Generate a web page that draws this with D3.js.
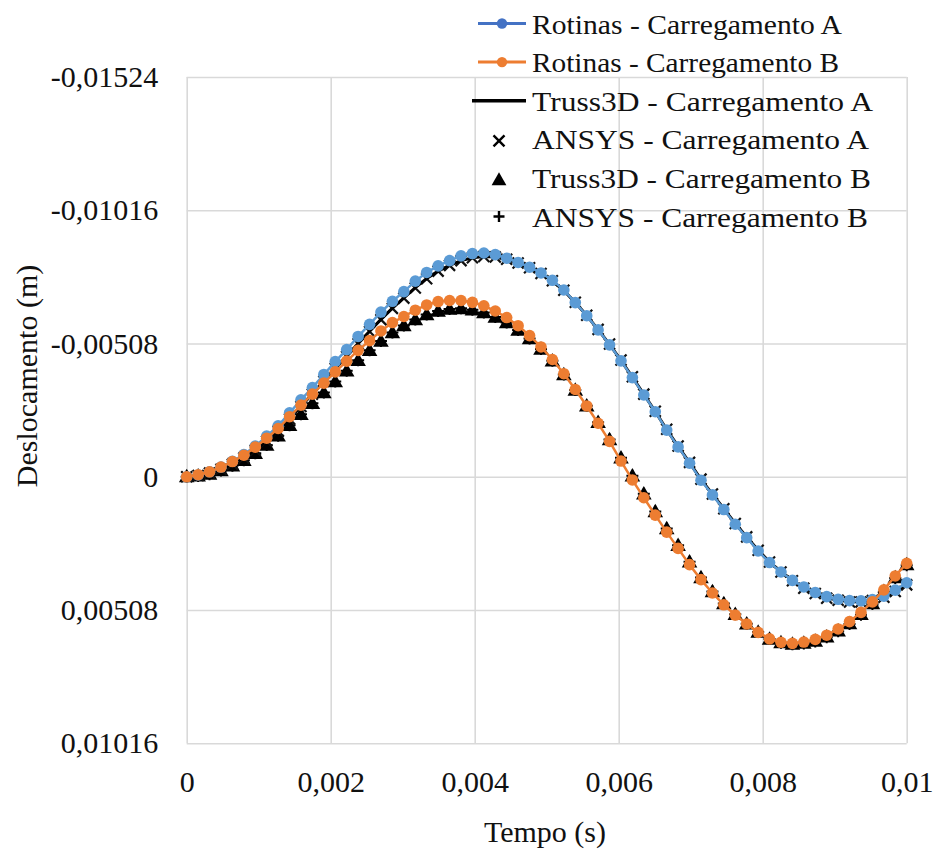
<!DOCTYPE html>
<html>
<head>
<meta charset="utf-8">
<script src="https://cdn.jsdelivr.net/npm/d3@7/dist/d3.min.js"></script>
<style>
  html, body { margin: 0; padding: 0; background: #ffffff; }
  svg { display: block; }
  text { font-family: "Liberation Serif", "Times New Roman", serif; fill: #111; }
</style>
</head>
<body>
<svg id="chart" width="935" height="850"></svg>
<script>
// ---------------- DATA ----------------
const times = [0, 0.000159, 0.000317, 0.000476, 0.000635, 0.000794, 0.000952, 0.001111, 0.001270, 0.001429,
  0.001587, 0.001746, 0.001905, 0.002063, 0.002222, 0.002381, 0.002540, 0.002698, 0.002857, 0.003016,
  0.003175, 0.003333, 0.003492, 0.003651, 0.003810, 0.003968, 0.004127, 0.004286, 0.004444, 0.004603,
  0.004762, 0.004921, 0.005079, 0.005238, 0.005397, 0.005556, 0.005714, 0.005873, 0.006032, 0.006190,
  0.006349, 0.006508, 0.006667, 0.006825, 0.006984, 0.007143, 0.007302, 0.007460, 0.007619, 0.007778,
  0.007937, 0.008095, 0.008254, 0.008413, 0.008571, 0.008730, 0.008889, 0.009048, 0.009206, 0.009365,
  0.009524, 0.009683, 0.009841, 0.010000];

const rotinasA = [0, -0.00007, -0.00019, -0.00037, -0.00059, -0.00085, -0.00117, -0.00155, -0.00194, -0.00244,
  -0.00293, -0.00340, -0.00390, -0.00439, -0.00485, -0.00535, -0.00581, -0.00628, -0.00669, -0.00706,
  -0.00746, -0.00779, -0.00804, -0.00824, -0.00842, -0.00851, -0.00853, -0.00847, -0.00833, -0.00817,
  -0.00799, -0.00777, -0.00749, -0.00712, -0.00664, -0.00614, -0.00560, -0.00503, -0.00442, -0.00378,
  -0.00312, -0.00248, -0.00178, -0.00114, -0.00052, 0.00013, 0.00069, 0.00125, 0.00181, 0.00232,
  0.00283, 0.00327, 0.00363, 0.00395, 0.00420, 0.00441, 0.00457, 0.00467, 0.00472, 0.00473,
  0.00468, 0.00455, 0.00432, 0.00404];

const rotinasB = [0, -0.00008, -0.00019, -0.00037, -0.00058, -0.00082, -0.00113, -0.00147, -0.00184, -0.00229,
  -0.00273, -0.00315, -0.00357, -0.00400, -0.00441, -0.00482, -0.00519, -0.00556, -0.00588, -0.00611,
  -0.00635, -0.00655, -0.00668, -0.00672, -0.00672, -0.00665, -0.00652, -0.00632, -0.00607, -0.00576,
  -0.00538, -0.00495, -0.00447, -0.00393, -0.00333, -0.00270, -0.00204, -0.00135, -0.00060, 0.00012,
  0.00080, 0.00146, 0.00211, 0.00273, 0.00335, 0.00392, 0.00443, 0.00488, 0.00527, 0.00561,
  0.00593, 0.00618, 0.00631, 0.00635, 0.00630, 0.00620, 0.00604, 0.00580, 0.00552, 0.00517,
  0.00477, 0.00431, 0.00378, 0.00330];

const truss3dA = [0, -0.00005, -0.00014, -0.00029, -0.00049, -0.00073, -0.00102, -0.00137, -0.00175, -0.00221,
  -0.00269, -0.00316, -0.00365, -0.00414, -0.00460, -0.00508, -0.00555, -0.00600, -0.00643, -0.00682,
  -0.00721, -0.00756, -0.00784, -0.00806, -0.00824, -0.00835, -0.00840, -0.00838, -0.00828, -0.00814,
  -0.00796, -0.00774, -0.00746, -0.00710, -0.00664, -0.00615, -0.00561, -0.00505, -0.00444, -0.00380,
  -0.00314, -0.00249, -0.00180, -0.00116, -0.00054, 0.00010, 0.00066, 0.00122, 0.00178, 0.00229,
  0.00280, 0.00325, 0.00362, 0.00395, 0.00424, 0.00444, 0.00462, 0.00470, 0.00476, 0.00476,
  0.00471, 0.00458, 0.00436, 0.00410];

const ansysA = [0, -0.00005, -0.00014, -0.00029, -0.00048, -0.00072, -0.00101, -0.00136, -0.00174, -0.00220,
  -0.00268, -0.00315, -0.00364, -0.00413, -0.00459, -0.00507, -0.00554, -0.00599, -0.00642, -0.00681,
  -0.00720, -0.00755, -0.00784, -0.00806, -0.00824, -0.00835, -0.00840, -0.00838, -0.00829, -0.00815,
  -0.00797, -0.00775, -0.00747, -0.00711, -0.00665, -0.00616, -0.00562, -0.00506, -0.00445, -0.00381,
  -0.00315, -0.00250, -0.00181, -0.00117, -0.00055, 0.00009, 0.00066, 0.00122, 0.00178, 0.00229,
  0.00280, 0.00325, 0.00363, 0.00396, 0.00425, 0.00445, 0.00463, 0.00471, 0.00477, 0.00477,
  0.00472, 0.00459, 0.00437, 0.00412];

const truss3dB = [0, -0.00003, -0.00010, -0.00023, -0.00041, -0.00062, -0.00089, -0.00120, -0.00155, -0.00195,
  -0.00237, -0.00279, -0.00320, -0.00362, -0.00403, -0.00443, -0.00481, -0.00517, -0.00549, -0.00576,
  -0.00599, -0.00618, -0.00631, -0.00639, -0.00641, -0.00636, -0.00625, -0.00608, -0.00587, -0.00559,
  -0.00526, -0.00486, -0.00441, -0.00389, -0.00330, -0.00270, -0.00207, -0.00141, -0.00072, -0.00003,
  0.00066, 0.00133, 0.00198, 0.00262, 0.00325, 0.00385, 0.00438, 0.00484, 0.00525, 0.00561,
  0.00593, 0.00619, 0.00633, 0.00638, 0.00635, 0.00627, 0.00611, 0.00588, 0.00560, 0.00525,
  0.00484, 0.00437, 0.00385, 0.00335];

const ansysB = [0, -0.00003, -0.00010, -0.00024, -0.00042, -0.00063, -0.00090, -0.00121, -0.00156, -0.00196,
  -0.00238, -0.00280, -0.00321, -0.00363, -0.00404, -0.00444, -0.00482, -0.00518, -0.00550, -0.00577,
  -0.00600, -0.00619, -0.00632, -0.00640, -0.00642, -0.00637, -0.00626, -0.00609, -0.00588, -0.00560,
  -0.00527, -0.00487, -0.00442, -0.00390, -0.00331, -0.00271, -0.00208, -0.00142, -0.00073, -0.00004,
  0.00065, 0.00132, 0.00197, 0.00261, 0.00324, 0.00384, 0.00437, 0.00483, 0.00524, 0.00560,
  0.00592, 0.00618, 0.00633, 0.00638, 0.00636, 0.00628, 0.00612, 0.00589, 0.00561, 0.00526,
  0.00485, 0.00438, 0.00386, 0.00337];

const seriesNames = ["Rotinas - Carregamento A", "Rotinas - Carregamento B", "Truss3D - Carregamento A",
  "ANSYS - Carregamento A", "Truss3D - Carregamento B", "ANSYS - Carregamento B"];

const yTicks = [-0.01524, -0.01016, -0.00508, 0, 0.00508, 0.01016];
const yTickLabels = ["-0,01524", "-0,01016", "-0,00508", "0", "0,00508", "0,01016"];
const xTicks = [0, 0.002, 0.004, 0.006, 0.008, 0.01];
const xTickLabels = ["0", "0,002", "0,004", "0,006", "0,008", "0,01"];
const xTitle = "Tempo (s)";
const yTitle = "Deslocamento (m)";

// ---------------- LAYOUT ----------------
const svg = d3.select("#chart");
const L = 186.7, R = 906.7, T = 77, B = 743.3;
const BLUE = "#5b9bd5", BLUE_LEG = "#4472c4", ORANGE = "#ed7d31";

svg.append("rect").attr("width", 935).attr("height", 850).attr("fill", "#fff");

const x = d3.scaleLinear().domain([0, 0.01]).range([L, R]);
const y = d3.scaleLinear().domain([-0.01524, 0.01016]).range([T, B]);

// Axes with gridlines
const yAxis = svg.append("g").attr("transform", `translate(${L},0)`)
  .call(d3.axisLeft(y).tickValues(yTicks).tickFormat((d, i) => yTickLabels[i])
    .tickSize(-(R - L)).tickPadding(28.5));
const xAxis = svg.append("g").attr("transform", `translate(0,${B})`)
  .call(d3.axisBottom(x).tickValues(xTicks).tickFormat((d, i) => xTickLabels[i])
    .tickSize(-(B - T)).tickPadding(27.5));
[yAxis, xAxis].forEach(g => {
  g.select(".domain").remove();
  g.selectAll(".tick line").attr("stroke", "#d9d9d9").attr("stroke-width", 1.6);
  g.selectAll(".tick text").attr("font-size", 30).attr("fill", "#111")
    .attr("font-family", '"Liberation Serif", "Times New Roman", serif');
});

// Axis titles
svg.append("text").attr("x", 545).attr("y", 842).attr("text-anchor", "middle")
  .attr("font-size", 30).text(xTitle);
svg.append("text").attr("transform", "translate(37,376) rotate(-90)").attr("text-anchor", "middle")
  .attr("font-size", 30).text(yTitle);

// Data
const plot = svg.append("g");
const pts = arr => arr.map((v, i) => [times[i], v]);
const line = d3.line().x(d => x(d[0])).y(d => y(d[1]));

// Truss3D B (triangles)
plot.append("g").selectAll("path").data(pts(truss3dB)).join("path")
  .attr("transform", d => `translate(${x(d[0])},${y(d[1]) + 1})`)
  .attr("d", d3.symbol().type(d3.symbolTriangle).size(105)())
  .attr("fill", "#000");
// ANSYS B (+)
plot.append("g").selectAll("path").data(pts(ansysB)).join("path")
  .attr("transform", d => `translate(${x(d[0])},${y(d[1])})`)
  .attr("d", "M-6,0H6M0,-6V6").attr("stroke", "#000").attr("stroke-width", 2).attr("fill", "none");
// ANSYS A (x)
plot.append("g").selectAll("path").data(pts(ansysA)).join("path")
  .attr("transform", d => `translate(${x(d[0])},${y(d[1])})`)
  .attr("d", "M-5.5,-5.5L5.5,5.5M-5.5,5.5L5.5,-5.5").attr("stroke", "#111").attr("stroke-width", 2.2).attr("fill", "none");
// Truss3D A (line)
plot.append("path").datum(pts(truss3dA)).attr("d", line)
  .attr("fill", "none").attr("stroke", "#000").attr("stroke-width", 3);

// Rotinas A
plot.append("path").datum(pts(rotinasA)).attr("d", line)
  .attr("fill", "none").attr("stroke", BLUE).attr("stroke-width", 2.5);
plot.append("g").selectAll("circle").data(pts(rotinasA)).join("circle")
  .attr("cx", d => x(d[0])).attr("cy", d => y(d[1])).attr("r", 5.8).attr("fill", BLUE);
// Rotinas B
plot.append("path").datum(pts(rotinasB)).attr("d", line)
  .attr("fill", "none").attr("stroke", ORANGE).attr("stroke-width", 2.5);
plot.append("g").selectAll("circle").data(pts(rotinasB)).join("circle")
  .attr("cx", d => x(d[0])).attr("cy", d => y(d[1])).attr("r", 5.8).attr("fill", ORANGE);

// Legend
const legW = [310, 307, 341, 337, 339, 336];
const leg = svg.append("g");
seriesNames.forEach((name, i) => {
  const base = 33.5 + 38.6 * i;
  const cy = base - 10;
  const g = leg.append("g");
  if (i === 0 || i === 1) {
    const c = i === 0 ? BLUE_LEG : ORANGE;
    g.append("line").attr("x1", 478).attr("x2", 526).attr("y1", cy).attr("y2", cy)
      .attr("stroke", c).attr("stroke-width", 3);
    g.append("circle").attr("cx", 502).attr("cy", cy).attr("r", 5.2).attr("fill", c);
  } else if (i === 2) {
    g.append("line").attr("x1", 472).attr("x2", 526).attr("y1", cy).attr("y2", cy)
      .attr("stroke", "#000").attr("stroke-width", 3.5);
  } else if (i === 3) {
    g.append("path").attr("transform", `translate(499,${cy + 1.5})`)
      .attr("d", "M-5.5,-5.5L5.5,5.5M-5.5,5.5L5.5,-5.5").attr("stroke", "#000").attr("stroke-width", 2.4);
  } else if (i === 4) {
    g.append("path").attr("transform", `translate(499,${cy + 3})`)
      .attr("d", d3.symbol().type(d3.symbolTriangle).size(95)()).attr("fill", "#000");
  } else {
    g.append("path").attr("transform", `translate(499,${cy})`)
      .attr("d", "M-5.5,0H5.5M0,-5.5V5.5").attr("stroke", "#000").attr("stroke-width", 2.4);
  }
  g.append("text").attr("x", 532).attr("y", base).attr("font-size", 28)
    .attr("textLength", legW[i]).attr("lengthAdjust", "spacingAndGlyphs").text(name);
});
</script>
</body>
</html>
